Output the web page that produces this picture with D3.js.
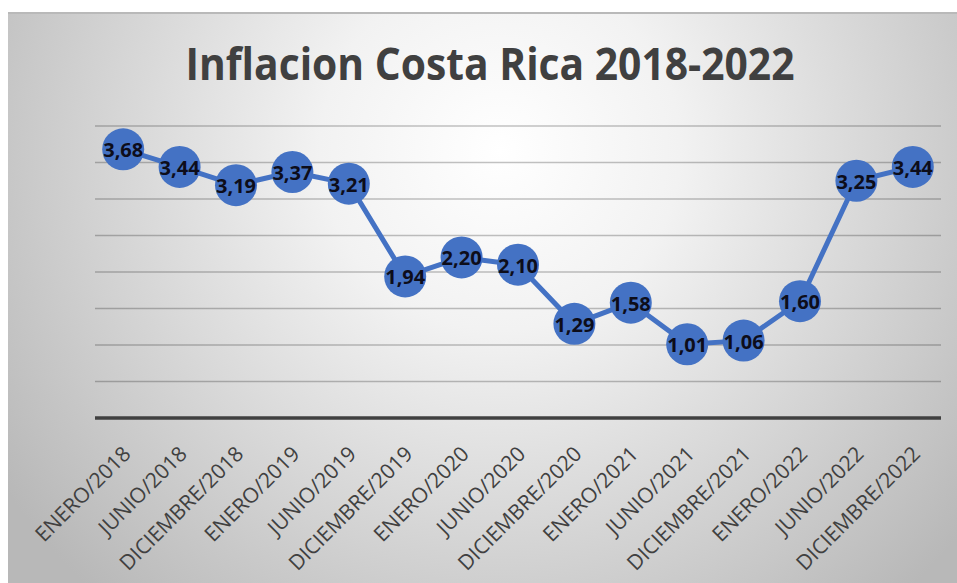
<!DOCTYPE html>
<html>
<head>
<meta charset="utf-8">
<script src="https://cdn.jsdelivr.net/npm/d3@7"></script>
<style>
    body { margin: 0; background: #ffffff; }
    #grafico text { font-family: "Open Sans", "Noto Sans", sans-serif; }
</style>
</head>
<body>
<div id="grafico"></div>
<script>
// Datos del grafico
const periodos = ['ENERO/2018', 'JUNIO/2018', 'DICIEMBRE/2018', 'ENERO/2019', 'JUNIO/2019',
    'DICIEMBRE/2019', 'ENERO/2020', 'JUNIO/2020', 'DICIEMBRE/2020', 'ENERO/2021',
    'JUNIO/2021', 'DICIEMBRE/2021', 'ENERO/2022', 'JUNIO/2022', 'DICIEMBRE/2022'];
const inflacion = [3.68, 3.44, 3.19, 3.37, 3.21, 1.94, 2.20, 2.10, 1.29, 1.58, 1.01, 1.06, 1.60, 3.25, 3.44];
const lineasGuia = [0.5, 1, 1.5, 2, 2.5, 3, 3.5, 4];
const titulo = 'Inflacion Costa Rica 2018-2022';

const ancho = 957, alto = 583;

const svg = d3.select('#grafico').append('svg')
    .attr('width', ancho)
    .attr('height', alto);

// Fondo con degradado radial
const defs = svg.append('defs');
const grad = defs.append('radialGradient')
    .attr('id', 'fondo')
    .attr('gradientUnits', 'userSpaceOnUse')
    .attr('cx', 500).attr('cy', 150).attr('r', 600);
grad.append('stop').attr('offset', '0%').attr('stop-color', '#ffffff');
grad.append('stop').attr('offset', '30%').attr('stop-color', '#f2f2f2');
grad.append('stop').attr('offset', '100%').attr('stop-color', '#b8b8b8');

svg.append('rect')
    .attr('x', 8).attr('y', 12)
    .attr('width', ancho - 8).attr('height', alto - 12)
    .attr('fill', 'url(#fondo)');
svg.append('line')
    .attr('x1', 8).attr('x2', ancho)
    .attr('y1', 13).attr('y2', 13)
    .attr('stroke', '#b9b9b9').attr('stroke-width', 2);

// Escalas
const x = d3.scalePoint().domain(periodos).range([95, 941]).padding(0.5);
const y = d3.scaleLinear().domain([0, 4]).range([418, 126]);

// Lineas de guia
svg.append('g').selectAll('line')
    .data(lineasGuia)
    .enter().append('line')
    .attr('x1', 95).attr('x2', 941)
    .attr('y1', d => y(d)).attr('y2', d => y(d))
    .attr('stroke', '#000')
    .attr('stroke-opacity', 0.24)
    .attr('stroke-width', 1.6);

// Eje X
const ejeX = svg.append('g')
    .attr('transform', 'translate(0,' + y(0) + ')')
    .call(d3.axisBottom(x).tickSize(0).tickPadding(0));
ejeX.select('.domain')
    .attr('d', 'M95,0H941')
    .attr('stroke', '#404040')
    .attr('stroke-width', 3.5);
ejeX.selectAll('text')
    .attr('fill', '#404040')
    .style('font-size', '21px')
    .attr('text-anchor', 'end')
    .attr('dy', '0.35em')
    .attr('transform', 'translate(3,32) rotate(-45)');

// Titulo
svg.append('text')
    .attr('x', 490)
    .attr('y', 80)
    .attr('text-anchor', 'middle')
    .attr('fill', '#404040')
    .style('font-size', '45px')
    .style('font-weight', 'bold')
    .attr('textLength', 609)
    .attr('lengthAdjust', 'spacingAndGlyphs')
    .text(titulo);

// Linea de la serie
const linea = d3.line()
    .x((d, i) => x(periodos[i]))
    .y(d => y(d));

svg.append('path')
    .datum(inflacion)
    .attr('d', linea)
    .attr('fill', 'none')
    .attr('stroke', '#4472C4')
    .attr('stroke-width', 5)
    .attr('stroke-linejoin', 'round');

// Marcadores
const puntos = svg.append('g').selectAll('g')
    .data(inflacion)
    .enter().append('g')
    .attr('transform', (d, i) => 'translate(' + x(periodos[i]) + ',' + y(d) + ')');

puntos.append('circle')
    .attr('r', 21)
    .attr('fill', '#4472C4');

// Etiquetas de datos
puntos.append('text')
    .attr('text-anchor', 'middle')
    .attr('dy', '0.4em')
    .attr('fill', '#0d0d1a')
    .style('font-size', '20px')
    .style('font-weight', 'bold')
    .text(d => d.toFixed(2).replace('.', ','));
</script>
</body>
</html>
